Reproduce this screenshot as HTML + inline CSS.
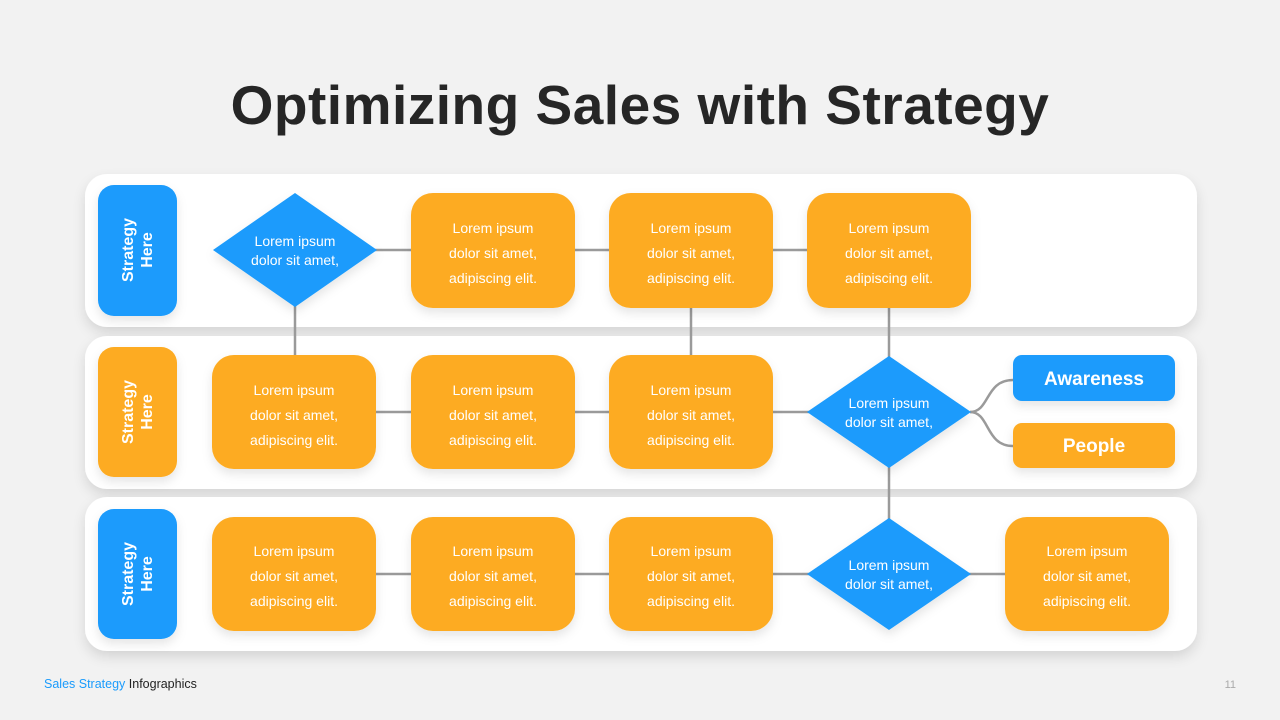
<!DOCTYPE html>
<html><head><meta charset="utf-8"><style>
html,body{margin:0;padding:0;background:#f2f2f2;}
svg{display:block;font-family:"Liberation Sans",sans-serif;}
</style></head><body>
<svg width="1280" height="720" viewBox="0 0 1280 720" xmlns="http://www.w3.org/2000/svg">
<defs>
<filter id="sh" x="-20%" y="-20%" width="140%" height="150%"><feDropShadow dx="0" dy="6" stdDeviation="6" flood-color="#000" flood-opacity="0.12"/></filter>
<filter id="sh2" x="-20%" y="-20%" width="140%" height="150%"><feDropShadow dx="0" dy="5" stdDeviation="5" flood-color="#000" flood-opacity="0.10"/></filter>
</defs>
<rect width="1280" height="720" fill="#f2f2f2"/>
<text x="640" y="124" text-anchor="middle" font-size="55" font-weight="bold" fill="#262626" letter-spacing="0.5">Optimizing Sales with Strategy</text>

<rect x="85" y="174" width="1112" height="153" rx="22" fill="#fff" filter="url(#sh)"/>
<rect x="85" y="336" width="1112" height="153" rx="22" fill="#fff" filter="url(#sh)"/>
<rect x="85" y="497" width="1112" height="154" rx="22" fill="#fff" filter="url(#sh)"/>

<g stroke="#9a9a9a" stroke-width="2.5" fill="none">
<line x1="295" y1="250" x2="889" y2="250"/>
<line x1="295" y1="250" x2="295" y2="412"/>
<line x1="691" y1="250" x2="691" y2="412"/>
<line x1="889" y1="250" x2="889" y2="574"/>
<line x1="295" y1="412" x2="889" y2="412"/>
<line x1="295" y1="574" x2="1088" y2="574"/>
<path d="M970 412 C990 412 985 380 1013 380"/>
<path d="M970 412 C990 412 985 446 1013 446"/>
</g>

<g fill="#1a9bfc" filter="url(#sh2)">
<rect x="98" y="185" width="79" height="131" rx="16"/>
<rect x="98" y="509" width="79" height="130" rx="16"/>
<polygon points="213,250 295,193 377,250 295,307"/>
<polygon points="807,412 889,356 971,412 889,468"/>
<polygon points="807,574 889,518 971,574 889,630"/>
<rect x="1013" y="355" width="162" height="46" rx="9"/>
</g>
<g fill="#fdab20" filter="url(#sh2)">
<rect x="98" y="347" width="79" height="130" rx="16"/>
<rect x="1013" y="423" width="162" height="45" rx="9"/>
<rect x="411" y="193" width="164" height="115" rx="22"/>
<rect x="609" y="193" width="164" height="115" rx="22"/>
<rect x="807" y="193" width="164" height="115" rx="22"/>
<rect x="212" y="355" width="164" height="114" rx="22"/>
<rect x="411" y="355" width="164" height="114" rx="22"/>
<rect x="609" y="355" width="164" height="114" rx="22"/>
<rect x="212" y="517" width="164" height="114" rx="22"/>
<rect x="411" y="517" width="164" height="114" rx="22"/>
<rect x="609" y="517" width="164" height="114" rx="22"/>
<rect x="1005" y="517" width="164" height="114" rx="22"/>
</g>

<g fill="#fff" font-size="16" font-weight="bold" text-anchor="middle">
<text transform="translate(133,250) rotate(-90)">Strategy</text>
<text transform="translate(152,250) rotate(-90)">Here</text>
<text transform="translate(133,412) rotate(-90)">Strategy</text>
<text transform="translate(152,412) rotate(-90)">Here</text>
<text transform="translate(133,574) rotate(-90)">Strategy</text>
<text transform="translate(152,574) rotate(-90)">Here</text>
<text x="1094" y="385" font-size="19">Awareness</text>
<text x="1094" y="452" font-size="19">People</text>
</g>

<g fill="#fff" font-size="14" text-anchor="middle">
<text x="295" y="246">Lorem ipsum</text><text x="295" y="265">dolor sit amet,</text>
<text x="889" y="408">Lorem ipsum</text><text x="889" y="427">dolor sit amet,</text>
<text x="889" y="570">Lorem ipsum</text><text x="889" y="589">dolor sit amet,</text>
</g>
<g fill="#fff" font-size="14" text-anchor="middle">
<g transform="translate(493,233)"><text>Lorem ipsum</text><text y="25">dolor sit amet,</text><text y="50">adipiscing elit.</text></g>
<g transform="translate(691,233)"><text>Lorem ipsum</text><text y="25">dolor sit amet,</text><text y="50">adipiscing elit.</text></g>
<g transform="translate(889,233)"><text>Lorem ipsum</text><text y="25">dolor sit amet,</text><text y="50">adipiscing elit.</text></g>
<g transform="translate(294,395)"><text>Lorem ipsum</text><text y="25">dolor sit amet,</text><text y="50">adipiscing elit.</text></g>
<g transform="translate(493,395)"><text>Lorem ipsum</text><text y="25">dolor sit amet,</text><text y="50">adipiscing elit.</text></g>
<g transform="translate(691,395)"><text>Lorem ipsum</text><text y="25">dolor sit amet,</text><text y="50">adipiscing elit.</text></g>
<g transform="translate(294,556)"><text>Lorem ipsum</text><text y="25">dolor sit amet,</text><text y="50">adipiscing elit.</text></g>
<g transform="translate(493,556)"><text>Lorem ipsum</text><text y="25">dolor sit amet,</text><text y="50">adipiscing elit.</text></g>
<g transform="translate(691,556)"><text>Lorem ipsum</text><text y="25">dolor sit amet,</text><text y="50">adipiscing elit.</text></g>
<g transform="translate(1087,556)"><text>Lorem ipsum</text><text y="25">dolor sit amet,</text><text y="50">adipiscing elit.</text></g>
</g>

<text x="44" y="688" font-size="12.5"><tspan fill="#1a9bfc">Sales Strategy</tspan><tspan fill="#222"> Infographics</tspan></text>
<text x="1236" y="688" font-size="11" fill="#aaa" text-anchor="end">11</text>
</svg>
</body></html>
